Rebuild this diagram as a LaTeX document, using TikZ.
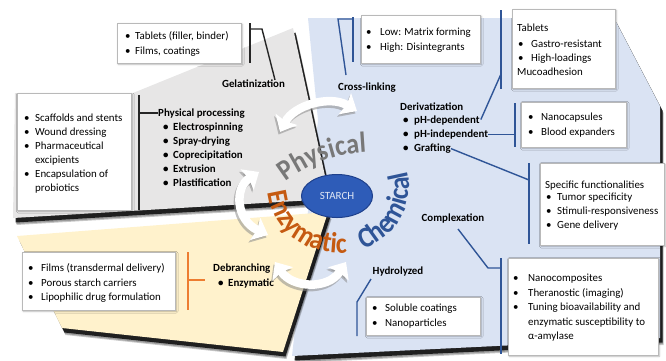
\documentclass[tikz,border=0pt]{standalone}
\usepackage{fontspec}
\setmainfont{Carlito}
\newfontfamily\arcfont[FakeStretch=0.9]{Carlito}
\usetikzlibrary{arrows.meta,decorations.text,shadows.blur,shapes.geometric}

\definecolor{panelgrey}{RGB}{231,230,230}
\definecolor{panelyellow}{RGB}{255,242,204}
\definecolor{panelblue}{RGB}{218,227,243}
\definecolor{chemblue}{RGB}{47,85,151}
\definecolor{enzorange}{RGB}{197,90,17}
\definecolor{brackorange}{RGB}{237,125,49}
\definecolor{physgrey}{RGB}{120,120,120}
\definecolor{starchblue}{RGB}{46,92,184}
\definecolor{starchedge}{RGB}{30,64,140}

\tikzset{
  itemtext/.style={inner sep=0pt, font=\fontsize{10.9}{12}\selectfont},
  itembold/.style={inner sep=0pt, font=\fontsize{10.9}{12}\selectfont\bfseries},
  infobox/.style={draw=gray!55, line width=0.5pt, fill=white, anchor=north west, inner sep=0pt,
    blur shadow={shadow xshift=1pt, shadow yshift=-1pt, shadow opacity=30, shadow blur steps=3}},
  physline/.style={line width=1.4pt, black!85},
  chemline/.style={line width=1.4pt, chemblue},
  enzline/.style={line width=1.4pt, brackorange},
  panelshade/.style={fill=black, opacity=0.8},
  panelhaze/.style={fill=black, opacity=0.22},
  swing/.style={line width=8.5pt, white, {Stealth[length=14pt,width=24pt,inset=2pt]}-{Stealth[length=14pt,width=24pt,inset=2pt]}},
  swingshade/.style={line width=8.5pt, black!45, opacity=0.55, {Stealth[length=14pt,width=24pt,inset=2pt]}-{Stealth[length=14pt,width=24pt,inset=2pt]}},
  starch/.style={ellipse, draw=starchedge, line width=1pt, fill=starchblue, minimum width=71pt, minimum height=43pt, inner sep=0pt,
    text=white!85!starchblue, font=\fontsize{11}{12}\selectfont},
  arcword/.style={decorate, decoration={text along path, text align=left, text format delimiters={|}{|}, text={#1}}},
}

% list of lines: style, bullet x, text x, first baseline, line step, entries bullet/text
\newcommand\bulletlist[6]{%
  \foreach \xb/\xt [count=\xi from 0] in {#6}{%
    \node[#1, anchor=base west] at (#2, {#4+#5*\xi}) {\xb};
    \node[#1, anchor=base west] at (#3, {#4+#5*\xi}) {\xt};
  }}

% shadow of a panel outline, drawn beneath the panel
\newcommand\panelshadow[1]{%
  \fill[panelhaze, transform canvas={xshift=3.5pt, yshift=-7pt}] #1;
  \fill[panelhaze, transform canvas={xshift=3pt, yshift=-6pt}] #1;
  \fill[panelshade, transform canvas={xshift=2.5pt, yshift=-4.5pt}] #1;}

\begin{document}
\begin{tikzpicture}[x=1pt,y=-1pt]
\useasboundingbox (0,0) rectangle (666,360);

% background panels
\def\bluepanel{(308,18) -- (614,18) -- (660,106) -- (660,338) -- (292,356) -- (318,120) -- cycle}
\def\greypanel{(15,93) -- (133,93) -- (293,28) -- (330,199) -- (13,218) -- cycle}
\def\yellowpanel{(17,236) -- (328,212) -- (283,352) -- (62,328) -- cycle}
\panelshadow{\bluepanel}
\fill[panelblue] \bluepanel;
\panelshadow{\greypanel}
\fill[panelgrey] \greypanel;
\panelshadow{\yellowpanel}
\fill[panelyellow] \yellowpanel;

% ---------- physical side ----------
\node[infobox, minimum width=124pt, minimum height=40pt] (boxA) at (117,23) {};
\bulletlist{itemtext}{125}{135}{39.5}{15}{\textbullet/{Tablets (filler, binder)}, \textbullet/{Films, coatings}}
\node[itembold] (gel) at (253.5,84) {Gelatinization};
\coordinate (gA) at (250,23); \coordinate (gB) at (250,63); \coordinate (gC) at (250,29); \coordinate (gD) at (262,29);
\draw[physline] (gA) -- (gB);
\draw[physline] (gC) -- (gD) -- (gel.north east -| 275,74);

\node[infobox, minimum width=114pt, minimum height=117pt] (boxB) at (17,93) {};
\bulletlist{itemtext}{24}{35}{121.5}{14}{\textbullet/Scaffolds and stents, \textbullet/Wound dressing, \textbullet/Pharmaceutical, {}/excipients, \textbullet/Encapsulation of, {}/probiotics}
\node[itembold, anchor=base west] (phys) at (158,116.5) {Physical processing};
\bulletlist{itembold}{163}{173}{130.5}{14}{\textbullet/Electrospinning, \textbullet/Spray-drying, \textbullet/Coprecipitation, \textbullet/Extrusion, \textbullet/Plastification}
\coordinate (pA) at (139,95); \coordinate (pB) at (139,210); \coordinate (pC) at (139,113);
\draw[physline] (pA) -- (pB);
\draw[physline] (pC) -- (phys.west |- pC);

% ---------- enzymatic side ----------
\node[infobox, minimum width=153pt, minimum height=58pt] (boxI) at (22,252) {};
\bulletlist{itemtext}{28}{41}{271.5}{14.5}{\textbullet/Films (transdermal delivery), \textbullet/Porous starch carriers, \textbullet/Lipophilic drug formulation}
\node[itembold, anchor=base west] (debr) at (213,271.5) {Debranching};
\bulletlist{itembold}{218}{228}{286.5}{14}{\textbullet/Enzymatic}
\coordinate (eA) at (188,252); \coordinate (eB) at (188,310); \coordinate (eC) at (188,280); \coordinate (eD) at (205,280);
\draw[enzline] (eA) -- (eB);
\draw[enzline] (eC) -- (eD);

% ---------- chemical side ----------
\node[itembold] (cross) at (367,88) {Cross-linking};
\node[infobox, minimum width=119pt, minimum height=48pt] (boxC) at (361,15) {};
\bulletlist{itemtext}{366}{380}{35.5}{15}{\textbullet/Low: Matrix forming, \textbullet/High: Disintegrants}
\coordinate (cA) at (353,17); \coordinate (cB) at (353,62); \coordinate (cC) at (338,19); \coordinate (cD) at (346,75);
\draw[chemline] (cA) -- (cB);
\draw[chemline] (cD) -- (cC) -- (cC -| cA);

\node[infobox, minimum width=103pt, minimum height=79pt] (boxD) at (512,9) {};
\node[itemtext, anchor=base west] (tabl) at (517,31.5) {Tablets};
\bulletlist{itemtext}{518}{531}{47.5}{14}{\textbullet/Gastro-resistant, \textbullet/High-loadings}
\node[itemtext, anchor=base west] (muco) at (517,75.5) {Mucoadhesion};

\node[itembold, anchor=base west] (deriv) at (400,110.5) {Derivatization};
\node[itembold, anchor=base west] (phdep) at (414,123.5) {pH-dependent};
\node[itembold, anchor=base west] (phind) at (414,137.5) {pH-independent};
\node[itembold, anchor=base west] (graft) at (414,151.5) {Grafting};
\bulletlist{itembold}{403}{414}{123.5}{14}{\textbullet/{}, \textbullet/{}, \textbullet/{}}
\coordinate (dA) at (501,10); \coordinate (dB) at (501,89); \coordinate (dC) at (501,74);
\draw[chemline] (dA) -- (dB);
\draw[chemline] (phdep.east) ++(1,-1) coordinate (dE) (dE) -- (dC);

\node[infobox, minimum width=105pt, minimum height=45pt] (boxE) at (521,102) {};
\bulletlist{itemtext}{528}{541}{120.5}{15}{\textbullet/Nanocapsules, \textbullet/Blood expanders}
\coordinate (nA) at (515,103); \coordinate (nB) at (515,147);
\draw[chemline] (nA) -- (nB);
\draw[chemline] (phind.east) -- (phind.east -| nA);

\node[infobox, minimum width=124pt, minimum height=82pt] (boxF) at (540,163) {};
\node[itemtext, anchor=base west] (spec) at (545,188.5) {Specific functionalities};
\bulletlist{itemtext}{546}{557}{200.5}{14}{\textbullet/Tumor specificity, \textbullet/Stimuli-responsiveness, \textbullet/Gene delivery}
\coordinate (fA) at (529,163); \coordinate (fB) at (529,244); \coordinate (fC) at (529,180);
\draw[chemline] (fA) -- (fB);
\draw[chemline] (graft.east) -- (fC);

\node[itembold] (compl) at (453,219) {Complexation};
\node[infobox, minimum width=150pt, minimum height=97pt] (boxG) at (508,258) {};
\bulletlist{itemtext}{513}{528}{281.5}{14.5}{\textbullet/Nanocomposites, \textbullet/Theranostic (imaging), \textbullet/Tuning bioavailability and, {}/enzymatic susceptibility to, {}/α-amylase}
\coordinate (xA) at (501,258); \coordinate (xB) at (501,354); \coordinate (xC) at (488,268); \coordinate (xD) at (458,229);
\draw[chemline] (xA) -- (xB);
\draw[chemline] (xD) -- (xC) -- (xC -| xA);

\node[itembold] (hydro) at (398,272) {Hydrolyzed};
\node[infobox, minimum width=114pt, minimum height=38pt] (boxH) at (366,297) {};
\bulletlist{itemtext}{372}{385}{311.5}{15}{\textbullet/Soluble coatings, \textbullet/Nanoparticles}
\coordinate (hA) at (371,279); \coordinate (hB) at (357,302); \coordinate (hC) at (357,336);
\draw[chemline] (hA) -- (hB) -- (hC);

% ---------- exchange arrows ----------
\coordinate (ta1) at (280,132); \coordinate (ta2) at (357,111);
\coordinate (la1) at (259,172); \coordinate (la2) at (268,235);
\coordinate (ba1) at (275,262); \coordinate (ba2) at (346,262);
\begin{scope}[transform canvas={xshift=-1.5pt, yshift=-2.5pt}]
  \draw[swingshade] (ta1) .. controls (294,105) and (330,95) .. (ta2);
  \draw[swingshade] (la1) .. controls (234,188) and (236,220) .. (la2);
  \draw[swingshade] (ba1) .. controls (292,288) and (328,290) .. (ba2);
\end{scope}
\draw[swing] (ta1) .. controls (294,105) and (330,95) .. (ta2);
\draw[swing] (la1) .. controls (234,188) and (236,220) .. (la2);
\draw[swing] (ba1) .. controls (292,288) and (328,290) .. (ba2);

% ---------- centre ----------
\node[starch] (core) at (337,196) {STARCH};

\begin{scope}[shift={(373,294)}, y=1pt]
  \path[arcword={|\arcfont\bfseries\fontsize{29}{29}\selectfont\color{physgrey}|Physical}]
    (127.8:142) arc[start angle=127.8, end angle=75, radius=142];
\end{scope}
\begin{scope}[shift={(339,187)}, y=1pt]
  \path[arcword={|\arcfont\bfseries\fontsize{29}{29}\selectfont\color{enzorange}|Enzymatic}]
    (185:71 and 66) arc[start angle=185, end angle=285, x radius=71, y radius=66];
  \path[arcword={|\arcfont\bfseries\fontsize{29}{29}\selectfont\color{chemblue}|Chemical}]
    (290:70 and 66) arc[start angle=290, end angle=390, x radius=70, y radius=66];
\end{scope}

\end{tikzpicture}
\end{document}
